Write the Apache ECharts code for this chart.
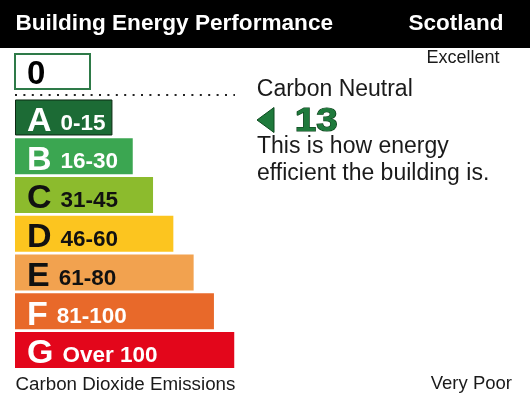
<!DOCTYPE html>
<html>
<head>
<meta charset="utf-8">
<script src="https://cdn.jsdelivr.net/npm/echarts@6/dist/echarts.min.js"></script>
<style>
html,body{margin:0;padding:0;background:#fff;}
#chart{width:530px;height:398px;}
</style>
</head>
<body>
<div id="chart"></div>
<script>
const grades = ['A', 'B', 'C', 'D', 'E', 'F', 'G'];
const ranges = ['0-15', '16-30', '31-45', '46-60', '61-80', '81-100', 'Over 100'];
const barLengths = [48, 58, 68, 78, 88, 98, 108];
const barColors = ['#1c6b35', '#3ba651', '#8cbb2d', '#fcc51f', '#f2a24f', '#e8692a', '#e3061b'];
const darkText = [false, false, true, true, true, false, false];
const ratingValue = 13;
const boxValue = 0;

const FONT = '"Liberation Sans", Arial, Helvetica, sans-serif';
const chart = echarts.init(document.getElementById('chart'), null, {renderer: 'canvas'});
function midY(baseline, fs) { return baseline - 0.28 * fs; }

const data = barLengths.map((v, i) => ({
  value: v,
  itemStyle: {
    color: barColors[i],
    borderColor: i === 0 ? '#0c2912' : barColors[i],
    borderWidth: i === 0 ? 1 : 0
  }
}));

const option = {
  animation: false,
  backgroundColor: '#ffffff',
  grid: {left: 15, top: 98.1, width: 507.5, height: 271.25, containLabel: false},
  xAxis: {type: 'value', min: 0, max: 250, show: false},
  yAxis: {type: 'category', data: grades, inverse: true, show: false},
  series: [{
    type: 'bar',
    data: data,
    barWidth: 36,
    label: {
      show: true,
      position: 'insideLeft',
      distance: 12,
      offset: [0, 4],
      formatter: function (p) {
        const d = darkText[p.dataIndex] ? 'b' : 'w';
        return '{l' + d + '|' + grades[p.dataIndex] + '}{r' + d + '|' + ranges[p.dataIndex] + '}';
      },
      rich: {
        lw: {fontFamily: FONT, fontWeight: 'bold', fontSize: 34, lineHeight: 34, color: '#ffffff', verticalAlign: 'bottom'},
        lb: {fontFamily: FONT, fontWeight: 'bold', fontSize: 34, lineHeight: 34, color: '#111111', verticalAlign: 'bottom'},
        rw: {fontFamily: FONT, fontWeight: 'bold', fontSize: 22.5, lineHeight: 27, color: '#ffffff', verticalAlign: 'bottom', padding: [0, 0, 3.5, 9]},
        rb: {fontFamily: FONT, fontWeight: 'bold', fontSize: 22.5, lineHeight: 27, color: '#111111', verticalAlign: 'bottom', padding: [0, 0, 3.5, 9]}
      }
    }
  }],
  graphic: [
    {type: 'rect', shape: {x: 0, y: 0, width: 530, height: 48}, style: {fill: '#000000'}, silent: true},
    {type: 'text', x: 15.4, y: midY(30, 22.6), style: {text: 'Building Energy Performance', fill: '#ffffff', font: 'bold 22.6px ' + FONT, textAlign: 'left', textVerticalAlign: 'middle'}},
    {type: 'text', x: 503.5, y: midY(30, 22.5), style: {text: 'Scotland', fill: '#ffffff', font: 'bold 22.5px ' + FONT, textAlign: 'right', textVerticalAlign: 'middle'}},
    {type: 'text', x: 499.5, y: midY(63, 18), style: {text: 'Excellent', fill: '#1a1a1a', font: '18px ' + FONT, textAlign: 'right', textVerticalAlign: 'middle'}},
    {type: 'rect', shape: {x: 15, y: 54, width: 75, height: 35}, style: {fill: '#ffffff', stroke: '#2e7a48', lineWidth: 2}},
    {type: 'text', x: 27, y: midY(84.5, 33), style: {text: String(boxValue), fill: '#000000', font: 'bold 33px ' + FONT, textAlign: 'left', textVerticalAlign: 'middle'}},
    {type: 'line', shape: {x1: 15, y1: 95, x2: 235, y2: 95}, style: {stroke: '#222222', lineWidth: 2, lineDash: [2, 6.4]}},
    {type: 'text', x: 256.8, y: midY(96, 23), style: {text: 'Carbon Neutral', fill: '#1a1a1a', font: '23px ' + FONT, textAlign: 'left', textVerticalAlign: 'middle'}},
    {type: 'polygon', shape: {points: [[257, 120], [274, 107.5], [274, 132.5]]}, style: {fill: '#1f7a3c', stroke: '#0c4a1e', lineWidth: 1, lineJoin: 'round'}},
    {type: 'text', x: 294.7, y: midY(131.2, 33), scaleX: 1.17, style: {text: String(ratingValue), fill: '#1f7a3c', stroke: '#0a3d18', lineWidth: 1.2, font: 'bold 33px ' + FONT, textAlign: 'left', textVerticalAlign: 'middle'}},
    {type: 'text', x: 257, y: midY(153, 23), style: {text: 'This is how energy', fill: '#1a1a1a', font: '23px ' + FONT, textAlign: 'left', textVerticalAlign: 'middle'}},
    {type: 'text', x: 257, y: midY(180, 23), style: {text: 'efficient the building is.', fill: '#1a1a1a', font: '23px ' + FONT, textAlign: 'left', textVerticalAlign: 'middle'}},
    {type: 'text', x: 15.5, y: midY(390, 18.75), style: {text: 'Carbon Dioxide Emissions', fill: '#1a1a1a', font: '18.75px ' + FONT, textAlign: 'left', textVerticalAlign: 'middle'}},
    {type: 'text', x: 512, y: midY(389, 18.5), style: {text: 'Very Poor', fill: '#1a1a1a', font: '18.5px ' + FONT, textAlign: 'right', textVerticalAlign: 'middle'}}
  ]
};
chart.setOption(option);
</script>
</body>
</html>
